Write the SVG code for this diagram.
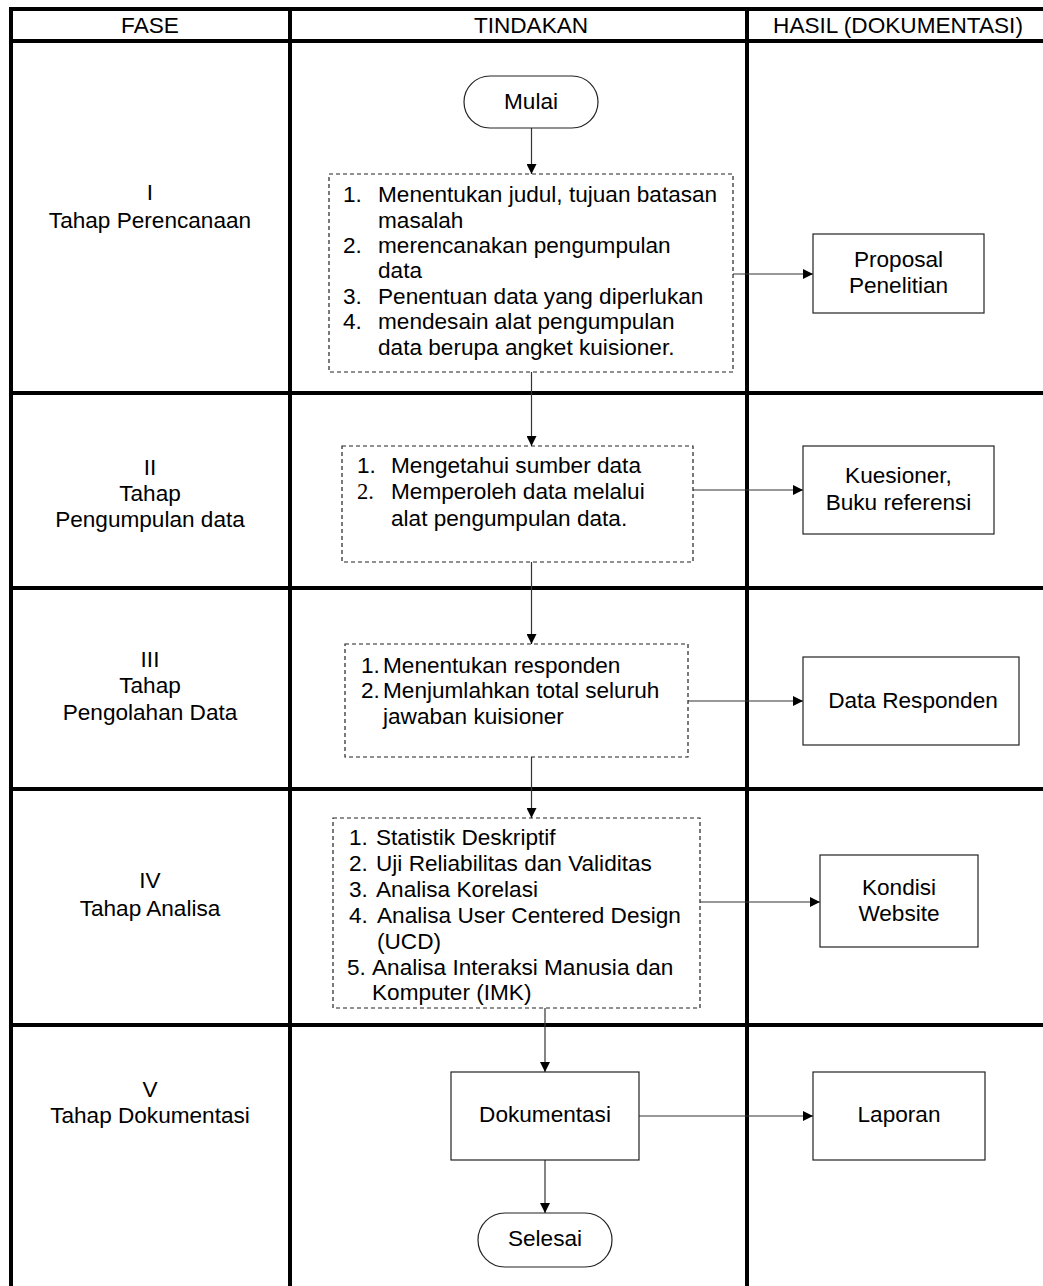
<svg xmlns="http://www.w3.org/2000/svg" width="1043" height="1286" viewBox="0 0 1043 1286">
<style>
text{font-family:"Liberation Sans",Arial,sans-serif;font-size:22.6px;fill:#000}
.c{text-anchor:middle}
.grid{stroke:#000;stroke-width:4;fill:none}
.box{fill:#fff;stroke:#222;stroke-width:1.2}
.dash{fill:#fff;stroke:#222;stroke-width:1.2;stroke-dasharray:4 3}
.con{stroke:#333;stroke-width:1.2;fill:none}
.serif{font-family:"Liberation Serif","Times New Roman",serif}
</style>
<defs>
<marker id="ah" viewBox="0 0 10 10" refX="10" refY="5" markerWidth="10" markerHeight="10" markerUnits="userSpaceOnUse" orient="auto">
<path d="M0,0 L10,5 L0,10 z" fill="#000"/>
</marker>
</defs>
<rect width="1043" height="1286" fill="#fff"/>
<g id="grid">
<line class="grid" x1="9" y1="9" x2="1043" y2="9"/>
<line class="grid" x1="9" y1="41" x2="1043" y2="41"/>
<line class="grid" x1="9" y1="393" x2="1043" y2="393"/>
<line class="grid" x1="9" y1="588" x2="1043" y2="588"/>
<line class="grid" x1="9" y1="789" x2="1043" y2="789"/>
<line class="grid" x1="9" y1="1025" x2="1043" y2="1025"/>
<line class="grid" x1="11" y1="7" x2="11" y2="1286"/>
<line class="grid" x1="290" y1="7" x2="290" y2="1286"/>
<line class="grid" x1="747" y1="7" x2="747" y2="1286"/>
<text class="c" x="150" y="33">FASE</text>
<text class="c" x="531" y="33">TINDAKAN</text>
<text class="c" x="898" y="33">HASIL (DOKUMENTASI)</text>
</g>
<g id="phase1"><text class="c" x="150" y="200">I</text><text class="c" x="150" y="228">Tahap Perencanaan</text></g>
<g id="phase2"><text class="c" x="150" y="475">II</text><text class="c" x="150" y="501">Tahap</text><text class="c" x="150" y="527">Pengumpulan data</text></g>
<g id="phase3"><text class="c" x="150" y="667">III</text><text class="c" x="150" y="693">Tahap</text><text class="c" x="150" y="720">Pengolahan Data</text></g>
<g id="phase4"><text class="c" x="150" y="888">IV</text><text class="c" x="150" y="916">Tahap Analisa</text></g>
<g id="phase5"><text class="c" x="150" y="1097">V</text><text class="c" x="150" y="1123">Tahap Dokumentasi</text></g>
<g id="connectors">
<line class="con" x1="531.5" y1="128" x2="531.5" y2="174" marker-end="url(#ah)"/>
<line class="con" x1="531.5" y1="372" x2="531.5" y2="446" marker-end="url(#ah)"/>
<line class="con" x1="531.5" y1="562" x2="531.5" y2="644" marker-end="url(#ah)"/>
<line class="con" x1="531.5" y1="757" x2="531.5" y2="818" marker-end="url(#ah)"/>
<line class="con" x1="545" y1="1008" x2="545" y2="1072" marker-end="url(#ah)"/>
<line class="con" x1="545" y1="1160" x2="545" y2="1213" marker-end="url(#ah)"/>
<line class="con" x1="733" y1="274" x2="813" y2="274" marker-end="url(#ah)"/>
<line class="con" x1="693" y1="490" x2="803" y2="490" marker-end="url(#ah)"/>
<line class="con" x1="688" y1="701" x2="803" y2="701" marker-end="url(#ah)"/>
<line class="con" x1="700" y1="902" x2="820" y2="902" marker-end="url(#ah)"/>
<line class="con" x1="639" y1="1116" x2="813" y2="1116" marker-end="url(#ah)"/>
</g>
<g id="mulai"><rect class="box" x="464" y="76" width="134" height="52" rx="26"/><text class="c" x="531" y="109">Mulai</text></g>
<g id="step1">
<rect class="dash" x="329" y="174" width="404" height="198"/>
<text x="343" y="202">1.</text><text x="378" y="202">Menentukan judul, tujuan batasan</text>
<text x="378" y="228">masalah</text>
<text x="343" y="253">2.</text><text x="378" y="253">merencanakan pengumpulan</text>
<text x="378" y="278">data</text>
<text x="343" y="304">3.</text><text x="378" y="304">Penentuan data yang diperlukan</text>
<text x="343" y="329">4.</text><text x="378" y="329">mendesain alat pengumpulan</text>
<text x="378" y="355">data berupa angket kuisioner.</text>
</g>
<g id="step2">
<rect class="dash" x="342" y="446" width="351" height="116"/>
<text x="357" y="473">1.</text><text x="391" y="473">Mengetahui sumber data</text>
<text class="serif" x="357" y="499">2.</text><text x="391" y="499">Memperoleh data melalui</text>
<text x="391" y="526">alat pengumpulan data.</text>
</g>
<g id="step3">
<rect class="dash" x="345" y="644" width="343" height="113"/>
<text x="361" y="673">1.</text><text x="383" y="673">Menentukan responden</text>
<text x="361" y="698">2.</text><text x="383" y="698">Menjumlahkan total seluruh</text>
<text x="383" y="724">jawaban kuisioner</text>
</g>
<g id="step4">
<rect class="dash" x="333" y="818" width="367" height="190"/>
<text x="349" y="845">1.</text><text x="376" y="845">Statistik Deskriptif</text>
<text x="349" y="871">2.</text><text x="376" y="871">Uji Reliabilitas dan Validitas</text>
<text x="349" y="897">3.</text><text x="376" y="897">Analisa Korelasi</text>
<text x="349" y="923">4.</text><text x="377" y="923">Analisa User Centered Design</text>
<text x="377" y="949">(UCD)</text>
<text x="347" y="975">5.</text><text x="372" y="975">Analisa Interaksi Manusia dan</text>
<text x="372" y="1000">Komputer (IMK)</text>
</g>
<g id="dokumentasi"><rect class="box" x="451" y="1072" width="188" height="88"/><text class="c" x="545" y="1122">Dokumentasi</text></g>
<g id="selesai"><rect class="box" x="478" y="1213" width="134" height="54" rx="27"/><text class="c" x="545" y="1246">Selesai</text></g>
<g id="proposal"><rect class="box" x="813" y="234" width="171" height="79"/><text class="c" x="898.5" y="267">Proposal</text><text class="c" x="898.5" y="293">Penelitian</text></g>
<g id="kuesioner"><rect class="box" x="803" y="446" width="191" height="88"/><text class="c" x="898.5" y="483">Kuesioner,</text><text class="c" x="898.5" y="510">Buku referensi</text></g>
<g id="dataresponden"><rect class="box" x="803" y="657" width="216" height="88"/><text class="c" x="913" y="708">Data Responden</text></g>
<g id="kondisi"><rect class="box" x="820" y="855" width="158" height="92"/><text class="c" x="899" y="895">Kondisi</text><text class="c" x="899" y="921">Website</text></g>
<g id="laporan"><rect class="box" x="813" y="1072" width="172" height="88"/><text class="c" x="899" y="1122">Laporan</text></g>
</svg>
